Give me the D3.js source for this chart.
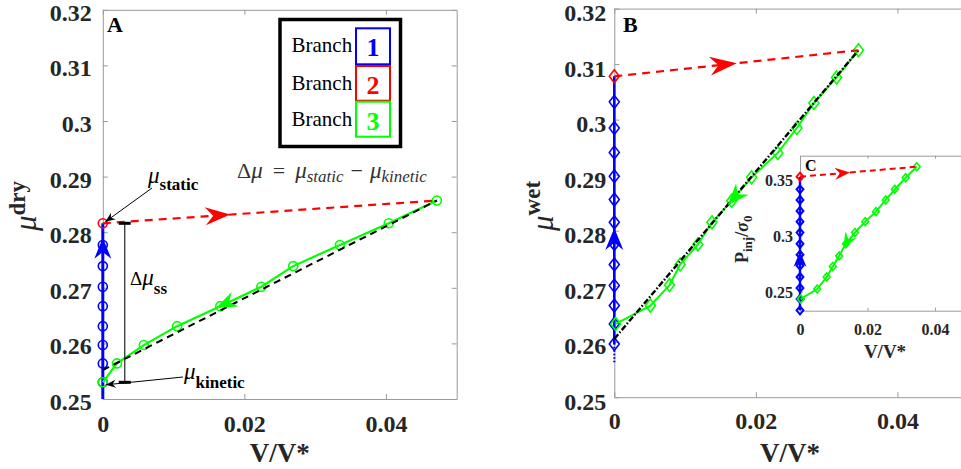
<!DOCTYPE html>
<html>
<head>
<meta charset="utf-8">
<script src="https://cdn.jsdelivr.net/npm/d3@7"></script>
<style>
  body { margin: 0; background: #fff; }
  svg { display: block; }
</style>
</head>
<body>
<svg id="fig" width="961" height="469"></svg>
<script>
// ---------- tick values and labels ----------
const xTickValues = [0, 0.02, 0.04];
const xTickLabels = ["0", "0.02", "0.04"];
const yTickValues = [0.25, 0.26, 0.27, 0.28, 0.29, 0.30, 0.31, 0.32];
const yTickLabels = ["0.25", "0.26", "0.27", "0.28", "0.29", "0.3", "0.31", "0.32"];
const insetYTickValues = [0.25, 0.30, 0.35];
const insetYTickLabels = ["0.25", "0.3", "0.35"];

// ---------- panel A: dry friction ----------
const dryBranch1Y = [0.2500, 0.2530, 0.2564, 0.2597, 0.2631, 0.2667, 0.2702, 0.2739, 0.2777, 0.2816];
const dryBranch1Markers = [0.2530, 0.2564, 0.2597, 0.2631, 0.2667, 0.2702, 0.2739, 0.2777];
const dryBranch2X = [0, 0.0472];
const dryBranch2Y = [0.2816, 0.2857];
const dryBranch3X = [0.0472, 0.0404, 0.0335, 0.0269, 0.0224, 0.0166, 0.0105, 0.0058, 0.0020, 0.0000];
const dryBranch3Y = [0.2857, 0.2816, 0.2777, 0.2739, 0.2702, 0.2667, 0.2631, 0.2597, 0.2564, 0.2530];
const dryFitX = [0, 0.0472];
const dryFitY = [0.2552, 0.2857];

// ---------- panel B: wet friction ----------
const wetBranch1Y = [0.2596, 0.2632, 0.2665, 0.2701, 0.2739, 0.2776, 0.2815, 0.2856, 0.2898, 0.2941, 0.2985, 0.3032, 0.3078];
const wetBranch1Markers = [0.2596, 0.2632, 0.2665, 0.2701, 0.2739, 0.2776, 0.2815, 0.2856, 0.2898, 0.2941, 0.2985, 0.3032];
const wetBranch1TailY = [0.2563, 0.2596];
const wetBranch2X = [0, 0.0345];
const wetBranch2Y = [0.3078, 0.3125];
const wetBranch3X = [0.0345, 0.0314, 0.0282, 0.0258, 0.0231, 0.0194, 0.0166, 0.0138, 0.0118, 0.0093, 0.0078, 0.0051, 0.0002];
const wetBranch3Y = [0.3125, 0.3076, 0.3030, 0.2985, 0.2940, 0.2896, 0.2854, 0.2815, 0.2775, 0.2739, 0.2702, 0.2665, 0.2632];
const wetFitX = [0, 0.0345];
const wetFitY = [0.2605, 0.3125];

// ---------- inset C: injection pressure ----------
const presBranch1Y = [0.2333, 0.2434, 0.2532, 0.2630, 0.2730, 0.2828, 0.2925, 0.3026, 0.3123, 0.3218, 0.3316, 0.3411, 0.3523];
const presBranch1Markers = [0.2333, 0.2434, 0.2532, 0.2630, 0.2730, 0.2828, 0.2925, 0.3026, 0.3123, 0.3218, 0.3316, 0.3411];
const presBranch2X = [0, 0.0346];
const presBranch2Y = [0.3523, 0.3612];
const presBranch3X = [0.0346, 0.0313, 0.0281, 0.0254, 0.0225, 0.0193, 0.0163, 0.0136, 0.0116, 0.0097, 0.0079, 0.0051, 0.0002];
const presBranch3Y = [0.3612, 0.3514, 0.3411, 0.3316, 0.3212, 0.3123, 0.3026, 0.2925, 0.2818, 0.2724, 0.2630, 0.2523, 0.2434];

const legendLabels = ["1", "2", "3"];

// ---------- styling ----------
const SERIF = "'Liberation Serif','Times New Roman',serif";
const AXIS_GREY = "#9a9a9a";
const TEXT_DARK = "#262626";
const BLUE = "#0000ff", RED = "#ff0000", GREEN = "#00ff00";

const svg = d3.select("#fig");
svg.append("rect").attr("width", 961).attr("height", 469).attr("fill", "#fff");

const zip = (xs, ys) => xs.map((v, i) => [v, ys[i]]);
const lineGen = (x, y) => d3.line().x(d => x(d[0])).y(d => y(d[1]));

function drawAxes(g, x, y, o) {
  const [x0, x1] = x.range();
  const [y0, y1] = y.range();
  const bottom = g.append("g").attr("transform", `translate(0,${y0})`)
    .call(d3.axisBottom(x).tickValues(o.xTicks).tickFormat((d, i) => o.xLabels[i])
      .tickSizeInner(-o.tick).tickSizeOuter(0).tickPadding(o.xPad));
  const left = g.append("g").attr("transform", `translate(${x0},0)`)
    .call(d3.axisLeft(y).tickValues(o.yTicks).tickFormat((d, i) => o.yLabels[i])
      .tickSizeInner(-o.tick).tickSizeOuter(0).tickPadding(o.yPad));
  const top = g.append("g").attr("transform", `translate(0,${y1})`)
    .call(d3.axisTop(x).tickValues(o.xTicks).tickFormat(() => "")
      .tickSizeInner(-o.tick).tickSizeOuter(0));
  const right = g.append("g").attr("transform", `translate(${x1},0)`)
    .call(d3.axisRight(y).tickValues(o.yTicks).tickFormat(() => "")
      .tickSizeInner(-o.tick).tickSizeOuter(0));
  [bottom, left, top, right].forEach(a => {
    a.select(".domain").attr("stroke", AXIS_GREY).attr("stroke-width", 1);
    a.selectAll(".tick line").attr("stroke", AXIS_GREY);
    a.selectAll(".tick text")
      .attr("fill", TEXT_DARK).attr("font-family", SERIF)
      .attr("font-weight", "bold").attr("font-size", o.fontSize);
  });
  // value labels sit slightly below their tick
  left.selectAll(".tick text").attr("dy", o.yDy);
}

function diamondPath(w, h) {
  return `M0,${-h}L${w},0L0,${h}L${-w},0Z`;
}

function arrowHead(g, tx, ty, angle, len, hw, color) {
  g.append("path")
    .attr("d", `M0,0L${-len},${-hw}L${-len * 0.68},0L${-len},${hw}Z`)
    .attr("transform", `translate(${tx},${ty}) rotate(${angle})`)
    .attr("fill", color);
}

// arrow on a straight segment: tip placed at data-x position along the segment
function arrowOnSegment(g, x, y, p0, p1, tipX, len, hw, color) {
  const t = (tipX - p0[0]) / (p1[0] - p0[0]);
  const ty = p0[1] + t * (p1[1] - p0[1]);
  const ang = Math.atan2(y(p1[1]) - y(p0[1]), x(p1[0]) - x(p0[0])) * 180 / Math.PI;
  arrowHead(g, x(tipX), y(ty), ang, len, hw, color);
}

// arrow along a polyline, tip at data-x, pointing in direction of travel
function arrowOnPolyline(g, x, y, xs, ys, tipX, len, hw, color) {
  for (let i = 0; i < xs.length - 1; i++) {
    const a = [xs[i], ys[i]], b = [xs[i + 1], ys[i + 1]];
    if ((tipX <= a[0] && tipX >= b[0]) || (tipX >= a[0] && tipX <= b[0])) {
      arrowOnSegment(g, x, y, a, b, tipX, len, hw, color);
      return;
    }
  }
}

// ================= Panel A =================
const xA = d3.scaleLinear().domain([0, 0.05]).range([102.8, 456.7]);
const yA = d3.scaleLinear().domain([0.25, 0.32]).range([399, 9.8]);
const gA = svg.append("g");
drawAxes(gA, xA, yA, {
  xTicks: xTickValues, xLabels: xTickLabels, yTicks: yTickValues, yLabels: yTickLabels,
  tick: 5, xPad: 16, yPad: 11, fontSize: 24, yDy: "0.44em"
});

// branch 1 (blue)
gA.append("path").datum(dryBranch1Y.map(v => [0, v]))
  .attr("d", lineGen(xA, yA)).attr("fill", "none").attr("stroke", BLUE).attr("stroke-width", 3);
gA.selectAll(".b1").data(dryBranch1Markers).join("circle")
  .attr("cx", xA(0)).attr("cy", d => yA(d)).attr("r", 4.5)
  .attr("fill", "none").attr("stroke", BLUE).attr("stroke-width", 1.6);

// branch 3 (green)
const dryB3 = zip(dryBranch3X, dryBranch3Y);
gA.append("path").datum(dryB3).attr("d", lineGen(xA, yA))
  .attr("fill", "none").attr("stroke", GREEN).attr("stroke-width", 2.2);
gA.selectAll(".b3").data(dryB3).join("circle")
  .attr("cx", d => xA(d[0])).attr("cy", d => yA(d[1])).attr("r", 4.5)
  .attr("fill", "none").attr("stroke", GREEN).attr("stroke-width", 1.6);

// steady-state fit (black dashed)
gA.append("path").datum(zip(dryFitX, dryFitY)).attr("d", lineGen(xA, yA))
  .attr("fill", "none").attr("stroke", "#000").attr("stroke-width", 2)
  .attr("stroke-dasharray", "7,5");

// branch 2 (red dashed)
const dryB2 = zip(dryBranch2X, dryBranch2Y);
gA.append("path").datum(dryB2).attr("d", lineGen(xA, yA))
  .attr("fill", "none").attr("stroke", RED).attr("stroke-width", 2.2)
  .attr("stroke-dasharray", "8,6");
gA.append("circle").attr("cx", xA(dryB2[0][0])).attr("cy", yA(dryB2[0][1])).attr("r", 4.5)
  .attr("fill", "none").attr("stroke", RED).attr("stroke-width", 1.6);

// direction arrows
arrowOnSegment(gA, xA, yA, dryB2[0], dryB2[1], 0.018, 25, 9, RED);
arrowHead(gA, xA(0), yA(0.2790), -90, 21, 8.5, BLUE);
arrowOnPolyline(gA, xA, yA, dryBranch3X, dryBranch3Y, 0.0160, 21, 8, GREEN);

// Δμ_ss bar between static and kinetic levels
const muStatic = dryBranch2Y[0];
const muKinetic = dryBranch3Y[dryBranch3Y.length - 1];
const barX = xA(0.0031);
gA.append("line").attr("x1", barX).attr("x2", barX)
  .attr("y1", yA(muStatic)).attr("y2", yA(muKinetic))
  .attr("stroke", "#333").attr("stroke-width", 1.3);
[muStatic, muKinetic].forEach(v => {
  gA.append("line").attr("x1", barX - 6).attr("x2", barX + 6)
    .attr("y1", yA(v)).attr("y2", yA(v)).attr("stroke", "#000").attr("stroke-width", 3);
});

// annotation arrows
function pointer(g, x1, y1, x2, y2) {
  g.append("line").attr("x1", x1).attr("y1", y1).attr("x2", x2).attr("y2", y2)
    .attr("stroke", "#000").attr("stroke-width", 1);
  const ang = Math.atan2(y2 - y1, x2 - x1) * 180 / Math.PI;
  arrowHead(g, x2, y2, ang, 10, 4, "#000");
}
pointer(gA, 152, 188, xA(0) + 2.5, yA(muStatic) - 1.5);
pointer(gA, 183, 377, xA(0) + 3, yA(muKinetic) + 2.5);

function muLabel(g, x, y, sub, subDy, muSize, subSize) {
  const t = g.append("text").attr("x", x).attr("y", y).attr("font-family", SERIF).attr("fill", "#000");
  t.append("tspan").text("μ").attr("font-style", "italic").attr("font-size", muSize);
  t.append("tspan").text(sub).attr("font-weight", "bold").attr("font-size", subSize).attr("dy", subDy);
}
muLabel(gA, 148, 183, "static", 7, 23, 17);
muLabel(gA, 184, 379, "kinetic", 9, 23, 17);

// Δμ_ss label
{
  const t = gA.append("text").attr("x", 130).attr("y", 285).attr("font-family", SERIF).attr("fill", "#000");
  t.append("tspan").text("Δ").attr("font-size", 19);
  t.append("tspan").text("μ").attr("font-style", "italic").attr("font-size", 23);
  t.append("tspan").text("ss").attr("font-weight", "bold").attr("font-size", 17).attr("dy", 9);
}

// definition of Δμ
{
  const t = gA.append("text").attr("x", 237).attr("y", 178).attr("font-family", SERIF).attr("fill", "#333");
  t.append("tspan").text("Δ").attr("font-size", 22);
  t.append("tspan").text("μ").attr("font-style", "italic").attr("font-size", 23);
  t.append("tspan").text("=").attr("font-size", 22).attr("dx", 10);
  t.append("tspan").text("μ").attr("font-style", "italic").attr("font-size", 23).attr("dx", 10);
  t.append("tspan").text("static").attr("font-style", "italic").attr("font-size", 17).attr("dy", 4);
  t.append("tspan").text("−").attr("font-size", 22).attr("dx", 7).attr("dy", -4);
  t.append("tspan").text("μ").attr("font-style", "italic").attr("font-size", 23).attr("dx", 7);
  t.append("tspan").text("kinetic").attr("font-style", "italic").attr("font-size", 17).attr("dy", 4);
}

// legend
{
  const lg = gA.append("g");
  lg.append("rect").attr("x", 280).attr("y", 19.5).attr("width", 120.5).attr("height", 127)
    .attr("fill", "#fff").attr("stroke", "#000").attr("stroke-width", 3.5);
  const colors = [BLUE, RED, GREEN];
  const boxTop = [28.3, 66, 101.7];
  const boxH = [36, 34.7, 35];
  legendLabels.forEach((lab, i) => {
    lg.append("text").attr("x", 291.5).attr("y", boxTop[i] + 24).attr("font-family", SERIF)
      .attr("font-size", 21).attr("fill", "#000").text("Branch");
    lg.append("rect").attr("x", 356).attr("y", boxTop[i]).attr("width", 34).attr("height", boxH[i])
      .attr("fill", "none").attr("stroke", colors[i]).attr("stroke-width", 2);
    lg.append("text").attr("x", 373).attr("y", boxTop[i] + 28).attr("text-anchor", "middle")
      .attr("font-family", SERIF).attr("font-weight", "bold").attr("font-size", 26)
      .attr("fill", colors[i]).text(lab);
  });
}

// panel letter and axis titles
gA.append("text").attr("x", 107).attr("y", 32).attr("font-family", SERIF).attr("font-weight", "bold")
  .attr("font-size", 22).attr("fill", "#000").text("A");
gA.append("text").attr("x", (xA.range()[0] + xA.range()[1]) / 2).attr("y", 462).attr("text-anchor", "middle")
  .attr("font-family", SERIF).attr("font-weight", "bold").attr("font-size", 27).attr("fill", TEXT_DARK).text("V/V*");
{
  const t = gA.append("text").attr("transform", "translate(36,231) rotate(-90)")
    .attr("font-family", SERIF).attr("fill", TEXT_DARK);
  t.append("tspan").text("μ").attr("font-style", "italic").attr("font-size", 31);
  t.append("tspan").text("dry").attr("font-weight", "bold").attr("font-size", 23).attr("dy", -11);
}

// ================= Panel B =================
const xB = d3.scaleLinear().domain([0, 0.05]).range([614.3, 968.2]);
const yB = d3.scaleLinear().domain([0.25, 0.32]).range([397.2, 8.6]);
const gB = svg.append("g");
drawAxes(gB, xB, yB, {
  xTicks: xTickValues, xLabels: xTickLabels, yTicks: yTickValues, yLabels: yTickLabels,
  tick: 5, xPad: 15, yPad: 8, fontSize: 24, yDy: "0.5em"
});

gB.append("path").datum(wetBranch1TailY.map(v => [0, v])).attr("d", lineGen(xB, yB))
  .attr("fill", "none").attr("stroke", BLUE).attr("stroke-width", 2.2).attr("stroke-dasharray", "1.5,2");
gB.append("path").datum(wetBranch1Y.map(v => [0, v])).attr("d", lineGen(xB, yB))
  .attr("fill", "none").attr("stroke", BLUE).attr("stroke-width", 2.6);
gB.selectAll(".b1").data(wetBranch1Markers).join("path")
  .attr("d", diamondPath(5, 6.5)).attr("transform", d => `translate(${xB(0)},${yB(d)})`)
  .attr("fill", "none").attr("stroke", BLUE).attr("stroke-width", 1.6);

const wetB3 = zip(wetBranch3X, wetBranch3Y);
gB.append("path").datum(wetB3).attr("d", lineGen(xB, yB))
  .attr("fill", "none").attr("stroke", GREEN).attr("stroke-width", 2);
gB.selectAll(".b3").data(wetB3).join("path")
  .attr("d", diamondPath(5, 6.5)).attr("transform", d => `translate(${xB(d[0])},${yB(d[1])})`)
  .attr("fill", "none").attr("stroke", GREEN).attr("stroke-width", 1.6);

gB.append("path").datum(zip(wetFitX, wetFitY)).attr("d", lineGen(xB, yB))
  .attr("fill", "none").attr("stroke", "#000").attr("stroke-width", 2.4)
  .attr("stroke-dasharray", "6,2,1.5,2");

const wetB2 = zip(wetBranch2X, wetBranch2Y);
gB.append("path").datum(wetB2).attr("d", lineGen(xB, yB))
  .attr("fill", "none").attr("stroke", RED).attr("stroke-width", 2.2).attr("stroke-dasharray", "8,6");
gB.append("path").attr("d", diamondPath(5, 6.5))
  .attr("transform", `translate(${xB(wetB2[0][0])},${yB(wetB2[0][1])})`)
  .attr("fill", "none").attr("stroke", RED).attr("stroke-width", 1.6);

arrowOnSegment(gB, xB, yB, wetB2[0], wetB2[1], 0.0173, 27, 9.5, RED);
arrowHead(gB, xB(0), yB(0.2805), -90, 22, 9, BLUE);
arrowOnPolyline(gB, xB, yB, wetBranch3X, wetBranch3Y, 0.0160, 22, 8.5, GREEN);

gB.append("text").attr("x", 623).attr("y", 32).attr("font-family", SERIF).attr("font-weight", "bold")
  .attr("font-size", 22).attr("fill", "#000").text("B");
gB.append("text").attr("x", 790).attr("y", 462).attr("text-anchor", "middle")
  .attr("font-family", SERIF).attr("font-weight", "bold").attr("font-size", 27).attr("fill", TEXT_DARK).text("V/V*");
{
  const t = gB.append("text").attr("transform", "translate(553,231) rotate(-90)")
    .attr("font-family", SERIF).attr("fill", TEXT_DARK);
  t.append("tspan").text("μ").attr("font-style", "italic").attr("font-size", 31);
  t.append("tspan").text("wet").attr("font-weight", "bold").attr("font-size", 23).attr("dy", -13);
}

// ================= Inset C =================
const xC = d3.scaleLinear().domain([0, 0.05]).range([800, 968.75]);
const yC = d3.scaleLinear().domain([0.233, 0.371]).range([310.7, 155.7]);
const gC = svg.append("g");
gC.append("rect").attr("x", xC.range()[0]).attr("y", yC.range()[1])
  .attr("width", xC.range()[1] - xC.range()[0]).attr("height", yC.range()[0] - yC.range()[1])
  .attr("fill", "#fff");
drawAxes(gC, xC, yC, {
  xTicks: xTickValues, xLabels: xTickLabels, yTicks: insetYTickValues, yLabels: insetYTickLabels,
  tick: 3, xPad: 13, yPad: 7, fontSize: 16, yDy: "0.36em"
});

gC.append("path").datum(presBranch1Y.map(v => [0, v])).attr("d", lineGen(xC, yC))
  .attr("fill", "none").attr("stroke", BLUE).attr("stroke-width", 2.4);
gC.selectAll(".b1").data(presBranch1Markers).join("path")
  .attr("d", diamondPath(3.4, 4)).attr("transform", d => `translate(${xC(0)},${yC(d)})`)
  .attr("fill", "none").attr("stroke", BLUE).attr("stroke-width", 2);

const presB3 = zip(presBranch3X, presBranch3Y);
gC.append("path").datum(presB3).attr("d", lineGen(xC, yC))
  .attr("fill", "none").attr("stroke", GREEN).attr("stroke-width", 2);
gC.selectAll(".b3").data(presB3).join("path")
  .attr("d", diamondPath(3.4, 4)).attr("transform", d => `translate(${xC(d[0])},${yC(d[1])})`)
  .attr("fill", "none").attr("stroke", GREEN).attr("stroke-width", 1.6);

const presB2 = zip(presBranch2X, presBranch2Y);
gC.append("path").datum(presB2).attr("d", lineGen(xC, yC))
  .attr("fill", "none").attr("stroke", RED).attr("stroke-width", 2).attr("stroke-dasharray", "6,4");
gC.append("path").attr("d", diamondPath(3.4, 4))
  .attr("transform", `translate(${xC(presB2[0][0])},${yC(presB2[0][1])})`)
  .attr("fill", "none").attr("stroke", RED).attr("stroke-width", 2);

arrowOnSegment(gC, xC, yC, presB2[0], presB2[1], 0.0148, 15, 6, RED);
arrowHead(gC, xC(0), yC(0.2855), -90, 15, 6.5, BLUE);
arrowOnPolyline(gC, xC, yC, presBranch3X, presBranch3Y, 0.0128, 16, 6.5, GREEN);

gC.append("text").attr("x", 805).attr("y", 170.5).attr("font-family", SERIF).attr("font-weight", "bold")
  .attr("font-size", 16).attr("fill", "#000").text("C");
gC.append("text").attr("x", 885).attr("y", 358).attr("text-anchor", "middle")
  .attr("font-family", SERIF).attr("font-weight", "bold").attr("font-size", 19).attr("fill", TEXT_DARK).text("V/V*");
{
  const t = gC.append("text").attr("transform", "translate(748,263) rotate(-90)")
    .attr("font-family", SERIF).attr("fill", TEXT_DARK).attr("font-weight", "bold");
  t.append("tspan").text("P").attr("font-size", 18);
  t.append("tspan").text("inj").attr("font-size", 13).attr("dy", 4);
  t.append("tspan").text("/").attr("font-size", 18).attr("dy", -4);
  t.append("tspan").text("σ").attr("font-style", "italic").attr("font-size", 18);
  t.append("tspan").text("0").attr("font-size", 13).attr("dy", 4);
}
</script>
</body>
</html>
